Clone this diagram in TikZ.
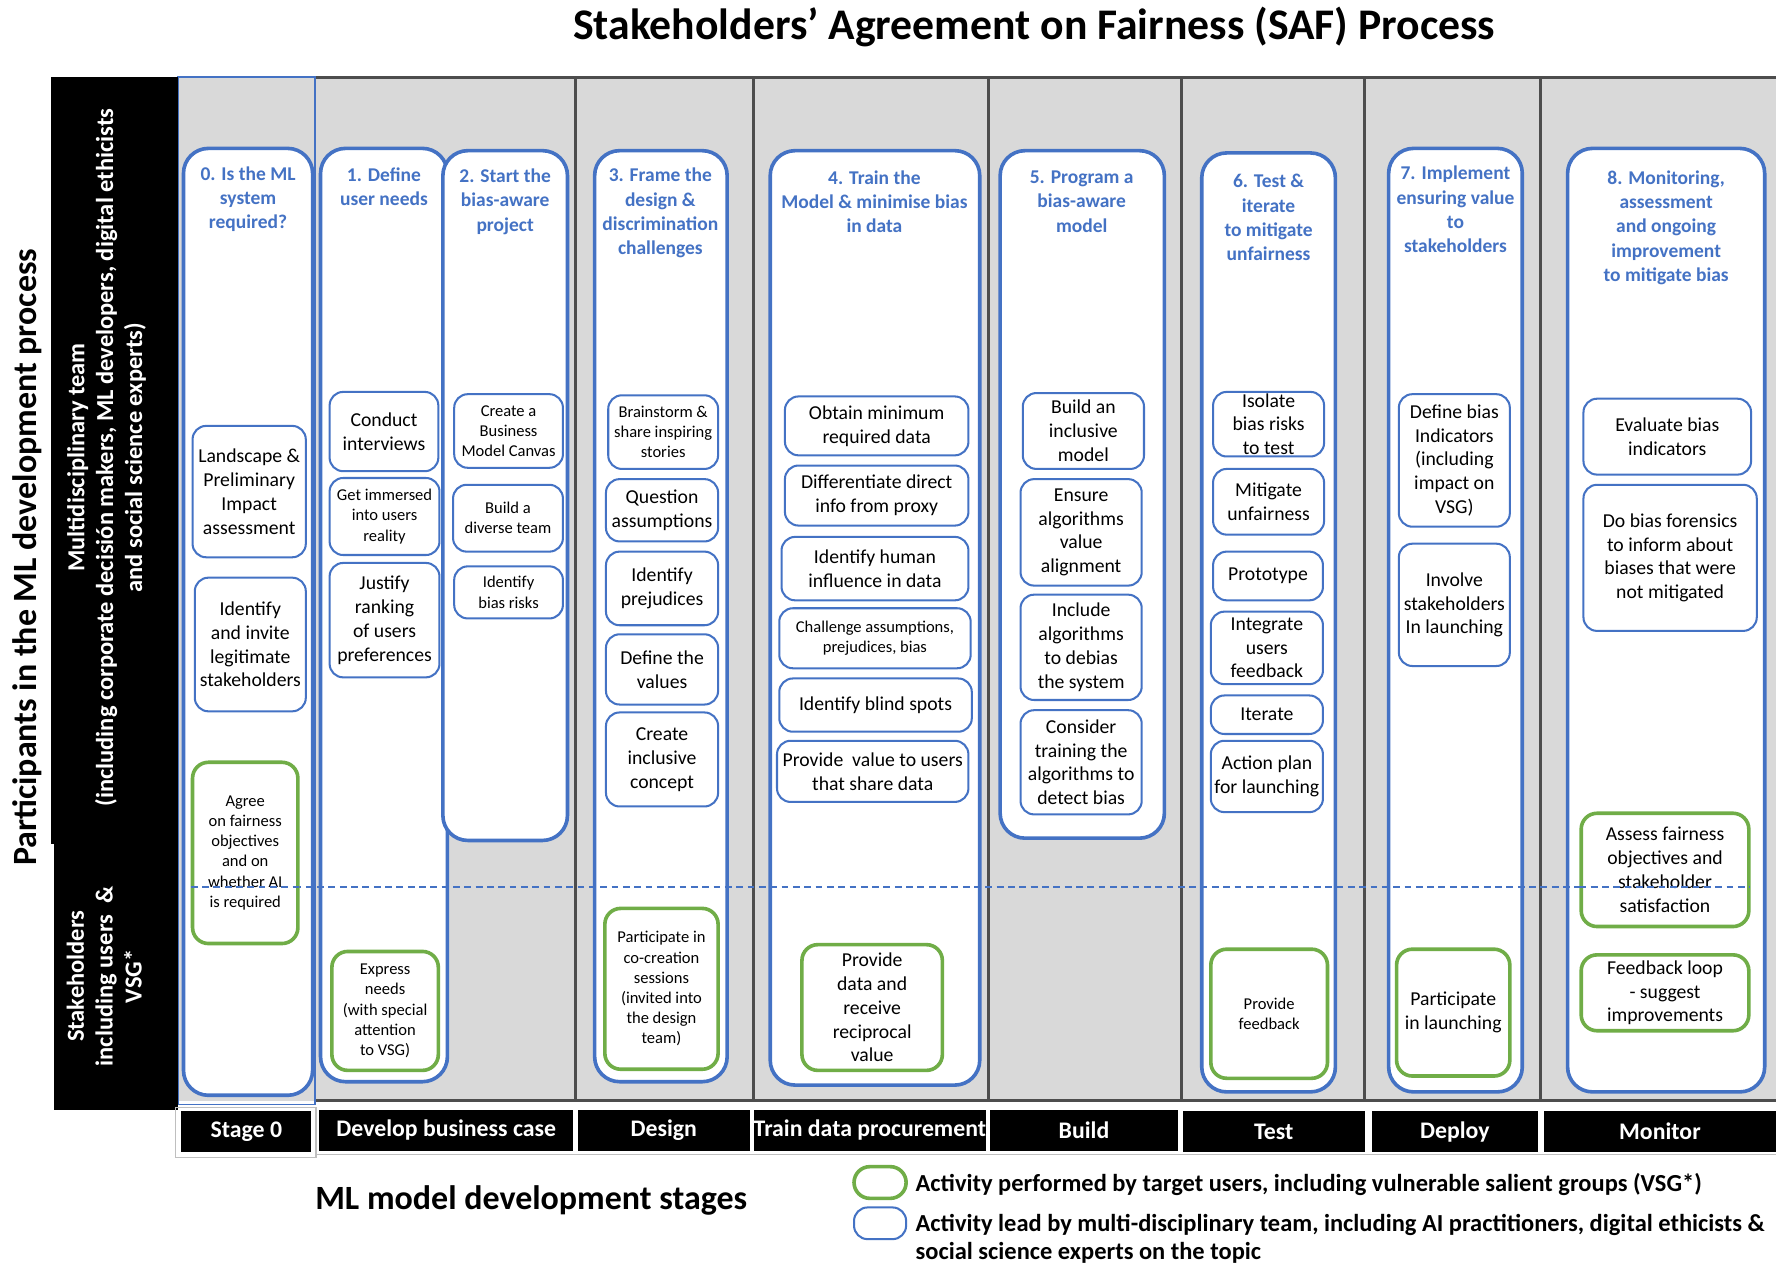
\documentclass[tikz,border=0pt]{standalone}
\usepackage{fontspec}
\setmainfont{Carlito}
\definecolor{cblue}{HTML}{4472C4}
\definecolor{cgreen}{HTML}{70AD47}
\definecolor{cgray}{HTML}{D9D9D9}
\definecolor{cline}{HTML}{4D4D4D}
\newcommand\normf{\fontsize{8.7}{10.5}\selectfont}
\newcommand\smallf{\fontsize{7.3}{8.9}\selectfont}
\newcommand\bx[7]{\node[#1,minimum width={(#5-#3)*0.5pt},minimum height={(#6-#4)*0.5pt}] (#2) at ({(#3+#5)/2},{(#4+#6)/2}) {#7};}
\begin{document}
\begin{tikzpicture}[x=0.5pt,y=-0.5pt,
  cont/.style={draw=cblue,line width=1.6pt,rounded corners=11pt,fill=white,inner sep=0pt},
  abox/.style={draw=cblue,line width=0.9pt,rounded corners=6pt,fill=white,inner sep=0pt,align=center,font=\normf},
  sbox/.style={abox,font=\smallf},
  gbox/.style={draw=cgreen,line width=1.6pt,rounded corners=7pt,fill=white,inner sep=0pt,align=center,font=\normf},
  gsbox/.style={gbox,font=\smallf},
  ttl/.style={text=cblue,align=center,font=\fontsize{8.6}{10.7}\selectfont\bfseries,inner sep=0pt},
  stg/.style={fill=black,text=white,inner sep=0pt,font=\fontsize{10.5}{12}\selectfont\bfseries},
  sep/.style={draw=cline,line width=1.3pt},
  side/.style={text=white,align=center,rotate=90,inner sep=0pt,font=\fontsize{10.8}{12.75}\selectfont\bfseries},
  leg/.style={anchor=west,align=left,inner sep=0pt,font=\fontsize{10.8}{12.5}\selectfont\bfseries}
]
\useasboundingbox (0,0) rectangle (1568,1116);
\fill[white] (0,0) rectangle (1568,1116);

% title
\node[font=\fontsize{19.3}{22}\selectfont\bfseries] (title) at (913,24) {Stakeholders’ Agreement on Fairness (SAF) Process};

% background
\fill[cgray] (157,68) rectangle (1568,972);
\draw[cline,line width=1.3pt] (278,68) -- (1568,68);
\draw[cline,line width=1.3pt] (278,972) -- (1568,972);
\draw[cblue,line width=0.6pt] (157,68) rectangle (278,975);
\foreach \xx in {508,665,873,1043,1205,1360} {\draw[sep] (\xx,68) -- (\xx,972);}

% left panel
\fill[black] (45,68) rectangle (157,745);
\fill[black] (48,745) rectangle (157,980);
\node[rotate=90,font=\fontsize{15}{18}\selectfont\bfseries] (parts) at (24,492) {Participants in the ML development process};
\node[side] (multi) at (94,404) {Multidisciplinary team\\(including corporate decisión makers, ML developers, digital ethicists\\and social science experts)};
\node[side] (stakeh) at (92,862) {Stakeholders\\including users \ \&\\VSG*};

% stage containers
\bx{cont}{c0}{162}{131}{276}{967}{}
\bx{cont}{c1}{283}{131}{395}{955}{}
\bx{cont}{c2}{391}{133}{501}{742}{}
\bx{cont}{c3}{525}{133}{642}{955}{}
\bx{cont}{c4}{680}{133}{865}{958}{}
\bx{cont}{c5}{883}{133}{1028}{740}{}
\bx{cont}{c6}{1061}{135}{1179}{964}{}
\bx{cont}{c7}{1226}{131}{1344}{964}{}
\bx{cont}{c8}{1384}{131}{1558}{964}{}

% titles
\node[ttl] (t0) at (219,176) {0. Is the ML\\system\\required?};
\node[ttl] (t1) at (339,165) {1. Define\\user needs};
\node[ttl] (t2) at (446,178) {2. Start the\\bias-aware\\project};
\node[ttl] (t3) at (583,188) {3. Frame the\\design \&\\discrimination\\challenges};
\node[ttl] (t4) at (772,178) {4. Train the\\Model \& minimise bias\\in data};
\node[ttl] (t5) at (955,178) {5. Program a\\bias-aware\\model};
\node[ttl] (t6) at (1120,192) {6. Test \&\\iterate\\to mitigate\\unfairness};
\node[ttl] (t7) at (1285,185) {7. Implement\\ensuring value\\to\\stakeholders};
\node[ttl] (t8) at (1471,201) {8. Monitoring,\\assessment\\and ongoing\\improvement\\to mitigate bias};

% dashed divider
\coordinate (dA) at (170,783);
\coordinate (dB) at (1545,783);
\draw[cblue,line width=0.6pt,dash pattern=on 3pt off 2pt] (dA) -- (dB);

% stage 0
\bx{abox}{b01}{170}{376}{270}{492}{Landscape \&\\Preliminary\\Impact\\assessment}
\bx{abox}{b02}{172}{510}{270}{628}{Identify\\and invite\\legitimate\\stakeholders}
\bx{gsbox}{g0}{170}{673}{263}{833}{Agree\\on fairness\\objectives\\and on\\whether AI\\is required}
% stage 1
\bx{abox}{b11}{291}{346}{387}{416}{Conduct\\interviews}
\bx{sbox}{b12}{291}{422}{388}{490}{Get immersed\\into users\\reality}
\bx{abox}{b13}{291}{497}{388}{598}{Justify\\ranking\\of users\\preferences}
\bx{gsbox}{g1}{293}{840}{387}{945}{Express\\needs\\(with special\\attention\\to VSG)}
% stage 2
\bx{sbox}{b21}{401}{348}{497}{413}{Create a\\Business\\Model Canvas}
\bx{sbox}{b22}{400}{428}{497}{487}{Build a\\diverse team}
\bx{sbox}{b23}{401}{500}{497}{546}{Identify\\bias risks}
% stage 3
\bx{sbox}{b31}{537}{349}{634}{414}{Brainstorm \&\\share inspiring\\stories}
\bx{abox}{b32}{535}{423}{634}{478}{Question\\assumptions}
\bx{abox}{b33}{535}{487}{634}{552}{Identify\\prejudices}
\bx{abox}{b34}{535}{560}{634}{622}{Define the\\values}
\bx{abox}{b35}{535}{629}{634}{712}{Create\\inclusive\\concept}
\bx{gsbox}{g3}{534}{802}{634}{944}{Participate in\\co-creation\\sessions\\(invited into\\the design\\team)}
% stage 4
\bx{abox}{b41}{693}{350}{855}{402}{Obtain minimum\\required data}
\bx{abox}{b42}{693}{411}{855}{464}{Differentiate direct\\info from proxy}
\bx{abox}{b43}{690}{474}{855}{530}{Identify human\\influence in data}
\bx{sbox}{b44}{688}{537}{857}{590}{Challenge assumptions,\\prejudices, bias}
\bx{abox}{b45}{688}{599}{858}{646}{Identify blind spots}
\bx{abox}{b46}{686}{654}{855}{708}{Provide \ value to users\\that share data}
\bx{gbox}{g4}{708}{834}{832}{945}{Provide\\data and\\receive\\reciprocal\\value}
% stage 5
\bx{abox}{b51}{903}{347}{1010}{414}{Build an\\inclusive\\model}
\bx{abox}{b52}{901}{423}{1008}{517}{Ensure\\algorithms\\value\\alignment}
\bx{abox}{b53}{901}{525}{1008}{618}{Include\\algorithms\\to debias\\the system}
\bx{abox}{b54}{901}{627}{1008}{719}{Consider\\training the\\algorithms to\\detect bias}
% stage 6
\bx{abox}{b61}{1071}{346}{1169}{403}{Isolate\\bias risks\\to test}
\bx{abox}{b62}{1071}{414}{1169}{472}{Mitigate\\unfairness}
\bx{abox}{b63}{1071}{487}{1168}{530}{Prototype}
\bx{abox}{b64}{1069}{540}{1168}{604}{Integrate\\users\\feedback}
\bx{abox}{b65}{1069}{614}{1168}{648}{Iterate}
\bx{abox}{b66}{1069}{654}{1168}{717}{Action plan\\for launching}
\bx{gsbox}{g6}{1069}{838}{1172}{952}{Provide\\feedback}
% stage 7
\bx{abox}{b71}{1235}{348}{1333}{465}{Define bias\\Indicators\\(including\\impact on\\VSG)}
\bx{abox}{b72}{1235}{480}{1333}{588}{Involve\\stakeholders\\In launching}
\bx{gbox}{g7}{1233}{838}{1333}{950}{Participate\\in launching}
% stage 8
\bx{abox}{b81}{1398}{352}{1546}{419}{Evaluate bias\\indicators}
\bx{abox}{b82}{1398}{428}{1551}{557}{Do bias forensics\\to inform about\\biases that were\\not mitigated}
\bx{gbox}{g81}{1396}{718}{1544}{818}{Assess fairness\\objectives and\\stakeholder\\satisfaction}
\bx{gbox}{g82}{1396}{843}{1544}{910}{Feedback loop\\- suggest\\improvements}

% dashed line also crosses the green boxes (as in reference)
\draw[cblue,line width=0.6pt,dash pattern=on 3pt off 2pt] (g0.west |- dA) -- (g0.east |- dA);
\draw[cblue,line width=0.6pt,dash pattern=on 3pt off 2pt] (g81.west |- dA) -- (dB);

% stage labels
\draw[gray!50,line width=0.6pt] (155,978) rectangle (279,1022);
\bx{stg}{s0}{160}{981}{275}{1017}{Stage 0}
\bx{stg}{s1}{282}{980}{506}{1016}{Develop business case}
\bx{stg}{s2}{510}{980}{662}{1016}{Design}
\bx{stg}{s3}{666}{980}{870}{1016}{Train data procurement}
\bx{stg}{s4}{874}{980}{1040}{1016}{Build}
\bx{stg}{s5}{1044}{981}{1205}{1017}{Test}
\bx{stg}{s6}{1211}{981}{1358}{1017}{Deploy}
\bx{stg}{s7}{1363}{981}{1568}{1017}{Monitor}
\draw[gray!50,line width=0.6pt] (279,1019) -- (1568,1019);

\node[font=\fontsize{15}{18}\selectfont\bfseries] (mlstages) at (469,1060) {ML model development stages};

% legend
\bx{gbox}{lg}{754}{1030}{800}{1058}{}
\bx{abox}{lb}{754}{1066}{800}{1094}{}
\node[leg] (lgt) at (808,1046) {Activity performed by target users, including vulnerable salient groups (VSG*)};
\node[leg] (lbt) at (808,1093.5) {Activity lead by multi-disciplinary team, including AI practitioners, digital ethicists \&\\social science experts on the topic};
\end{tikzpicture}
\end{document}
